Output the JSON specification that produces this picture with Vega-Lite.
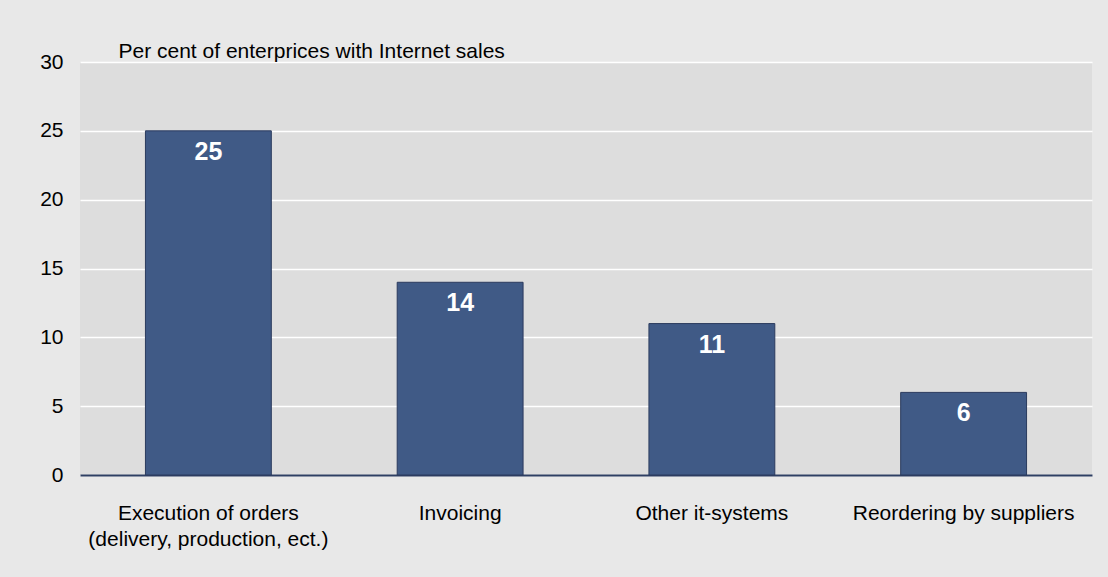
{
  "$schema": "https://vega.github.io/schema/vega-lite/v6.json",
  "autosize": {"type": "none"},
  "width": 1012,
  "height": 413,
  "padding": {"left": 80, "top": 62, "right": 16, "bottom": 102},
  "background": "#e8e8e8",
  "config": {
    "font": "Liberation Sans",
    "view": {"fill": "#dddddd", "stroke": null}
  },
  "data": {
    "values": [
      {"category": "Execution of orders|(delivery, production, ect.)", "value": 25},
      {"category": "Invoicing", "value": 14},
      {"category": "Other it-systems", "value": 11},
      {"category": "Reordering by suppliers", "value": 6}
    ]
  },
  "encoding": {
    "x": {
      "field": "category",
      "type": "nominal",
      "sort": null,
      "scale": {"paddingInner": 0.5, "paddingOuter": 0.26},
      "axis": {
        "title": null,
        "labelAngle": 0,
        "labelFontSize": 21,
        "labelColor": "#000000",
        "labelPadding": 27,
        "labelLineHeight": 26,
        "labelLimit": 0,
        "labelExpr": "split(datum.label, '|')",
        "ticks": false,
        "domainColor": "#2e3f63",
        "domainWidth": 2
      }
    },
    "y": {
      "field": "value",
      "type": "quantitative",
      "scale": {"domain": [0, 30]},
      "axis": {
        "values": [0, 5, 10, 15, 20, 25, 30],
        "title": "Per cent of enterprices with Internet sales",
        "titleAngle": 0,
        "titleAlign": "left",
        "titleBaseline": "alphabetic",
        "titleX": 38,
        "titleY": -5,
        "titleFontSize": 21,
        "titleFontWeight": "normal",
        "titleColor": "#000000",
        "labelFontSize": 21,
        "labelColor": "#000000",
        "labelPadding": 17,
        "ticks": false,
        "domain": false,
        "grid": true,
        "gridColor": "#ffffff",
        "gridWidth": 1.5
      }
    }
  },
  "layer": [
    {
      "mark": {"type": "bar", "color": "#405a86", "stroke": "#2b3b5e", "strokeWidth": 1}
    },
    {
      "mark": {"type": "text", "baseline": "top", "dy": 9, "fontSize": 25, "fontWeight": "bold", "color": "#ffffff"},
      "encoding": {"text": {"field": "value", "type": "quantitative"}}
    }
  ]
}
